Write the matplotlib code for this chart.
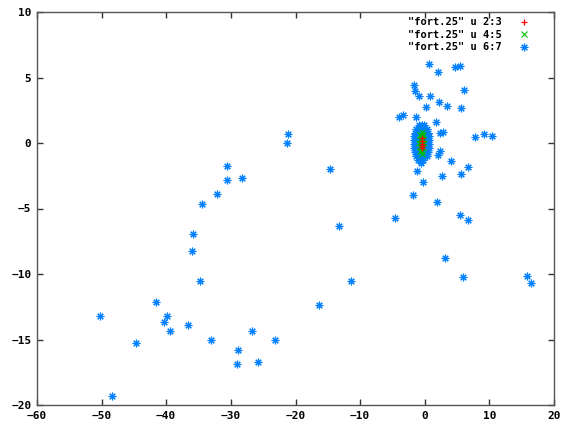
import numpy as np
import matplotlib
matplotlib.use('Agg')
import matplotlib.pyplot as plt

# columns 2:3 of fort.25 (red, all near the origin)
x2 = [-0.45, -0.45, -0.4, -0.45, -0.5]
y3 = [0.35, 0.15, -0.05, -0.2, -0.35]

# columns 4:5 (green cloud)
x4 = [-0.5,
      -0.8, -0.5, -0.2,
      -0.8, -0.5, -0.2,
      -0.85, -0.5, -0.15,
      -0.8, -0.5, -0.2,
      -0.7, -0.4,
      -0.5]
y5 = [0.85,
      0.6, 0.6, 0.6,
      0.3, 0.3, 0.3,
      0.0, 0.0, 0.0,
      -0.3, -0.3, -0.3,
      -0.6, -0.6,
      -0.85]

# columns 6:7 (blue): dense cloud at the origin ...
x6_core = [-0.9, -0.5, -0.1,
           -1.3, -0.9, -0.5, -0.1, 0.3,
           -1.5, -1.0, -0.5, 0.0, 0.5,
           -1.6, -1.1, -0.5, 0.1, 0.6,
           -1.7, -1.1, -0.5, 0.1, 0.7,
           -1.7, -1.1, -0.5, 0.1, 0.7,
           -1.6, -1.1, -0.5, 0.1, 0.6,
           -1.5, -1.0, -0.5, 0.0, 0.5,
           -1.4, -0.9, -0.5, -0.1, 0.3,
           -1.1, -0.6, -0.2,
           -0.6]
y7_core = [1.4, 1.4, 1.4,
           1.1, 1.1, 1.1, 1.1, 1.1,
           0.8, 0.8, 0.8, 0.8, 0.8,
           0.5, 0.5, 0.5, 0.5, 0.5,
           0.2, 0.2, 0.2, 0.2, 0.2,
           -0.1, -0.1, -0.1, -0.1, -0.1,
           -0.4, -0.4, -0.4, -0.4, -0.4,
           -0.7, -0.7, -0.7, -0.7, -0.7,
           -1.0, -1.0, -1.0, -1.0, -1.0,
           -1.3, -1.3, -1.3,
           -1.55]

# ... and the scattered points
x6_out = [0.72, 2.06, 4.75, 5.47, -1.6, -1.5, -0.88, 0.88, 6.09, 2.2,
          3.5, 0.2, 5.67, -4.0, -3.4, -1.34, 1.8, 2.42, 2.84, 7.8,
          9.2, 10.4, 2.32, 2.1, 4.0, 6.76, 5.67, 2.63, -1.24, -0.26,
          -1.75, 1.96, -4.64, 5.52, 6.66, 3.2, 5.93, 15.8, 16.4,
          -30.6, -30.65, -32.15, -34.5, -35.9, -36.0, -34.8, -41.6, -50.3, -39.9,
          -40.4, -39.4, -36.6, -33.0, -44.7, -48.4, -28.3, -14.7, -13.2, -11.4,
          -16.4, -26.8, -23.1, -28.9, -29.0, -25.8, -21.2, -21.3]
y7_out = [6.0, 5.4, 5.8, 5.85, 4.45, 3.95, 3.61, 3.56, 4.02, 3.15,
          2.82, 2.72, 2.67, 1.98, 2.11, 1.98, 1.6, 0.74, 0.84, 0.43,
          0.71, 0.51, -0.64, -0.94, -1.4, -1.86, -2.34, -2.54, -2.16, -2.95,
          -3.97, -4.53, -5.75, -5.47, -5.9, -8.8, -10.25, -10.15, -10.7,
          -1.73, -2.82, -3.89, -4.66, -6.97, -8.27, -10.5, -12.1, -13.2, -13.2,
          -13.7, -14.35, -13.9, -15.0, -15.3, -19.3, -2.69, -2.0, -6.36, -10.56,
          -12.4, -14.35, -15.0, -15.8, -16.9, -16.7, 0.66, 0.02]

x6 = x6_core + x6_out
y7 = y7_core + y7_out

plt.rcParams['font.family'] = 'DejaVu Sans Mono'
plt.rcParams['font.weight'] = 'bold'
plt.rcParams['font.size'] = 8

fig = plt.figure(figsize=(5.72, 4.26), dpi=100)
ax = fig.add_axes([37 / 572, 1 - 405 / 426, 517 / 572, 393 / 426])

star = (8, 2, 0)
ax.plot(x6, y7, linestyle='none', marker=star, markersize=5.5, mew=0.8,
        color='#0080ff', label='"fort.25" u 6:7', zorder=2)
ax.plot(x4, y5, linestyle='none', marker='x', markersize=4.5, mew=0.8,
        color='#00c000', label='"fort.25" u 4:5', zorder=3)
ax.plot(x2, y3, linestyle='none', marker='+', markersize=4.5, mew=0.9,
        color='#ff0000', label='"fort.25" u 2:3', zorder=4)

ax.set_xlim(-60, 20)
ax.set_ylim(-20, 10)
ax.set_xticks(np.arange(-60, 21, 10))
ax.set_yticks(np.arange(-20, 11, 5))
ax.tick_params(direction='in', length=4, width=1, top=True, right=True,
               color='#333333', labelsize=8, pad=4)
for s in ax.spines.values():
    s.set_color('#555555')
    s.set_linewidth(1)

h, l = ax.get_legend_handles_labels()
ax.legend(h[::-1], l[::-1], loc='upper right', bbox_to_anchor=(0.964, 1.0),
          frameon=False, markerfirst=False, prop={'size': 7.5, 'weight': 'bold'},
          handlelength=1.2, handletextpad=1.5, labelspacing=0.25,
          borderaxespad=0.1)

fig.savefig('out.png', dpi=100)
